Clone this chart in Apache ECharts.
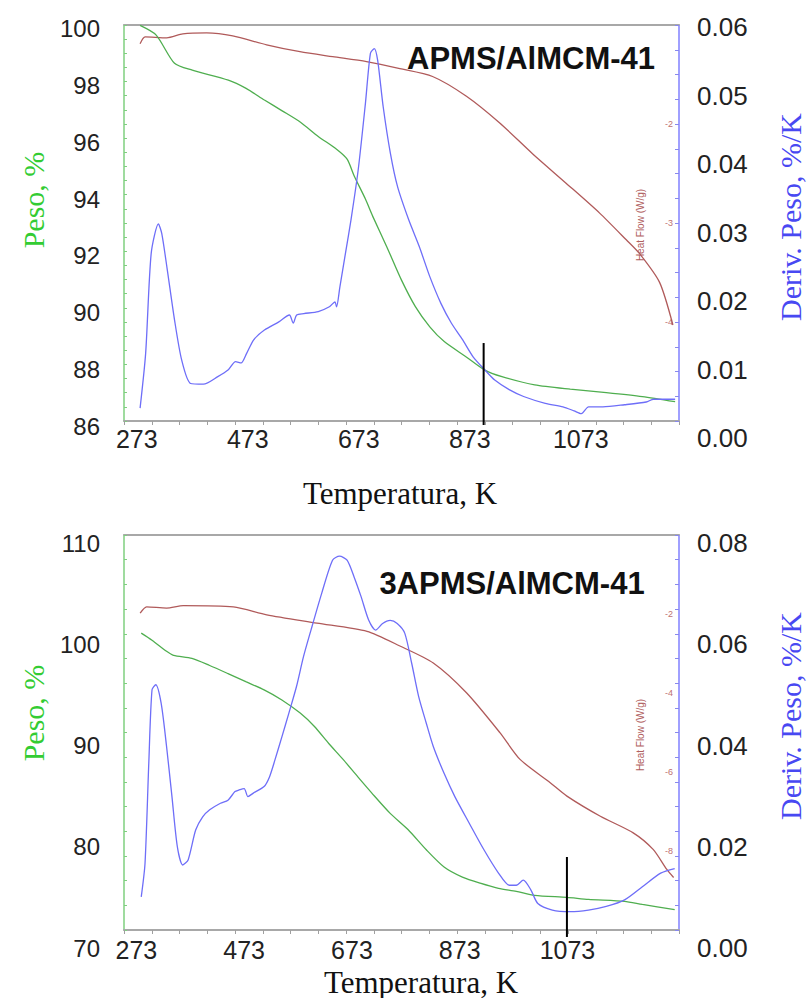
<!DOCTYPE html>
<html><head><meta charset="utf-8">
<script src="https://cdn.jsdelivr.net/npm/echarts@6/dist/echarts.min.js"></script>
<style>html,body{margin:0;padding:0;background:#fff}#c{width:807px;height:998px}</style>
</head><body><div id="c"></div>
<script>
// ---------- DATA (top panel: APMS/AlMCM-41) ----------
const xLabelValues = [273, 473, 673, 873, 1073];

const topWeightK = [279,308,341,373,438,470,503,535,568,600,633,652,665,685,698,724,750,775,801,827,866,900,931,990,1054,1119,1184,1243];
const topWeight  = [100.1,99.76,98.77,98.53,98.18,97.89,97.48,97.1,96.7,96.2,95.75,95.4,94.8,94.0,93.4,92.3,91.15,90.22,89.51,88.99,88.46,87.99,87.76,87.47,87.32,87.20,87.06,86.88];

const topDerivK = [279,289,299,312,318,328,341,354,370,393,419,438,451,461,471,484,503,529,548,555,561,574,600,620,630,633,639,649,659,672,685,694,701,707,717,730,743,763,782,801,821,840,860,879,900,918,944,970,1009,1041,1061,1074,1087,1113,1152,1191,1204,1243];
const topDeriv  = [0.0044,0.0124,0.0270,0.0313,0.0299,0.0246,0.0173,0.0114,0.0080,0.0079,0.0090,0.0100,0.0112,0.0110,0.0124,0.0144,0.0158,0.0170,0.0180,0.0168,0.0180,0.0182,0.0185,0.0192,0.0199,0.0192,0.0221,0.0270,0.0319,0.0392,0.0489,0.0562,0.0569,0.0552,0.0484,0.0416,0.0367,0.0319,0.0280,0.0236,0.0197,0.0168,0.0144,0.0119,0.0100,0.0085,0.0071,0.0061,0.0051,0.0046,0.0040,0.0036,0.0046,0.0046,0.0049,0.0053,0.0057,0.0057];

const topHeatK = [279,288,327,356,399,446,507,567,626,687,747,806,867,927,986,1047,1107,1155,1179,1215,1239];
const topHeat  = [-1.19,-1.12,-1.13,-1.09,-1.08,-1.11,-1.20,-1.27,-1.32,-1.37,-1.44,-1.52,-1.72,-1.99,-2.30,-2.60,-2.90,-3.17,-3.31,-3.60,-4.03];

const topMarkerK = 898;
const topMarkerWeight = [88.94, 86.06];

const topWeightTicks = [86, 100, 2];
const topDerivTicks = [0, 0.06, 0.01];
const topHeatTicks = [-5, -1, 0.25];
const topHeatLabels = [-4, -3, -2];

// ---------- DATA (bottom panel: 3APMS/AlMCM-41) ----------
const botWeightK = [282,302,329,342,376,409,443,476,510,543,577,603,630,657,684,710,744,777,811,844,878,911,945,978,1012,1072,1112,1179,1212,1272];
const botWeight  = [101.1,100.4,99.3,98.9,98.6,97.9,97.1,96.3,95.5,94.5,93.2,91.9,90.2,88.6,86.9,85.3,83.3,81.7,79.7,78.0,77.0,76.4,75.9,75.6,75.2,75.0,74.8,74.6,74.3,73.8];

const botDerivK = [282,289,296,302,309,319,329,339,349,359,369,383,396,409,429,443,456,463,473,480,490,510,520,530,543,556,570,583,597,617,637,650,664,677,690,704,717,730,744,757,771,784,797,811,824,844,864,891,918,945,965,978,991,1005,1018,1045,1078,1112,1145,1179,1212,1246,1272];
const botDeriv  = [0.0101,0.0167,0.0365,0.0510,0.0520,0.0483,0.0398,0.0299,0.0200,0.0164,0.0174,0.0233,0.0259,0.0273,0.0286,0.0292,0.0309,0.0312,0.0315,0.0299,0.0306,0.0319,0.0338,0.0371,0.0417,0.0464,0.0516,0.0575,0.0628,0.0701,0.0766,0.0774,0.0766,0.0733,0.0694,0.0648,0.0628,0.0641,0.0647,0.0641,0.0622,0.0562,0.0496,0.0444,0.0398,0.0345,0.0299,0.0246,0.0194,0.0148,0.0124,0.0124,0.0134,0.0115,0.0088,0.0075,0.0072,0.0075,0.0082,0.0095,0.0121,0.0148,0.0157];

const botHeatK = [280,292,329,360,453,515,608,701,762,824,886,948,985,1041,1072,1134,1195,1232,1257,1270];
const botHeat  = [-1.98,-1.82,-1.85,-1.79,-1.82,-2.02,-2.23,-2.44,-2.81,-3.24,-4.00,-5.01,-5.68,-6.27,-6.61,-7.12,-7.54,-7.96,-8.46,-8.67];

const botMarkerK = 1072;
const botMarkerWeight = [78.99, 71.09];

const botWeightTicks = [70, 110, 10];
const botDerivTicks = [0, 0.08, 0.02];
const botHeatTicks = [-10, 0, 0.625];
const botHeatLabels = [-8, -6, -4, -2];

// ---------- CHART ----------
const SANS = "'Liberation Sans', Arial, sans-serif";
const SERIF = "'Liberation Serif', 'Times New Roman', serif";
const C_GREEN = '#4fae4f', C_BLUE = '#6e6ef8', C_BROWN = '#b05a5a';
const grids = [], xAxes = [], yAxes = [], series = [], graphics = [];
const zip = (a, b) => a.map((v, i) => [v, b[i]]);

function addPanel(p) {
  const gA = grids.length; grids.push({left:124, right:128, top:p.top, height:p.height, outerBoundsMode:'none'});
  const gB = grids.length; grids.push({left:124, right:128, top:p.lTop, height:p.lHeight, outerBoundsMode:'none'});
  const gC = grids.length; grids.push({left:124, right:128, top:p.rTop, height:p.rHeight, outerBoundsMode:'none'});
  const ticks = [];
  for (let i = 0; i <= 20; i++) ticks.push(p.xMin + (p.xMax - p.xMin) * i / 20);
  const xA = xAxes.length;
  xAxes.push({type:'value', gridIndex:gA, min:p.xMin, max:p.xMax, position:'bottom',
    axisLine:{show:true, onZero:false, lineStyle:{color:'#a8a8a8', width:2}},
    axisTick:{show:true, customValues:ticks, length:4, lineStyle:{color:'#a0a0a0', width:1}},
    axisLabel:{customValues:xLabelValues, fontSize:25, color:'#222', margin:p.xMargin, fontFamily:SANS,
      formatter:v => String(Math.round(v))},
    splitLine:{show:false}});
  xAxes.push({type:'value', gridIndex:gA, min:p.xMin, max:p.xMax, position:'top',
    axisLine:{show:true, onZero:false, lineStyle:{color:'#a8a8a8', width:2}},
    axisTick:{show:false}, axisLabel:{show:false}, splitLine:{show:false}});
  const xB = xAxes.length;
  xAxes.push({type:'value', gridIndex:gB, min:p.xMin, max:p.xMax, show:false});
  const xC = xAxes.length;
  xAxes.push({type:'value', gridIndex:gC, min:p.xMin, max:p.xMax, show:false});

  yAxes.push({type:'value', gridIndex:gA, position:'left', min:0, max:p.frameTicks, interval:1,
    axisLine:{show:true, onZero:false, lineStyle:{color:'#7fcf7f', width:1.5}},
    axisTick:{show:true, inside:true, length:3, lineStyle:{color:'#7fcf7f'}},
    axisLabel:{show:false}, splitLine:{show:false}});
  const yHeat = yAxes.length;
  yAxes.push({type:'value', gridIndex:gA, position:'right', min:p.heat[0], max:p.heat[1], interval:p.heat[2],
    axisLine:{show:true, onZero:false, lineStyle:{color:'#8080ff', width:1.5}},
    axisTick:{show:true, inside:true, length:4, lineStyle:{color:'#8888ee'}},
    axisLabel:{customValues:p.heatLabels, inside:true, margin:6, fontSize:9, color:'#c07070', fontFamily:SANS},
    splitLine:{show:false}});
  const yW = yAxes.length;
  yAxes.push({type:'value', gridIndex:gB, position:'left', min:p.w[0], max:p.w[1], interval:p.w[2],
    axisLine:{show:false}, axisTick:{show:false}, splitLine:{show:false},
    axisLabel:{fontSize:24, color:'#222', margin:24, fontFamily:SANS}});
  const yD = yAxes.length;
  yAxes.push({type:'value', gridIndex:gC, position:'right', min:p.d[0], max:p.d[1], interval:p.d[2],
    axisLine:{show:false}, axisTick:{show:false}, splitLine:{show:false},
    axisLabel:{fontSize:26, color:'#222', margin:18, fontFamily:SANS, formatter:v => v.toFixed(2)}});

  const lineBase = {type:'line', symbol:'none', smooth:0.25, clip:false, silent:true};
  series.push(Object.assign({}, lineBase, {name:'Heat Flow', xAxisIndex:xA, yAxisIndex:yHeat,
    data:zip(p.heatK, p.heatV), lineStyle:{color:C_BROWN, width:1.3}}));
  series.push(Object.assign({}, lineBase, {name:'Peso', xAxisIndex:xB, yAxisIndex:yW,
    data:zip(p.wK, p.wV), lineStyle:{color:C_GREEN, width:1.3}}));
  series.push(Object.assign({}, lineBase, {name:'Deriv. Peso', xAxisIndex:xC, yAxisIndex:yD,
    data:zip(p.dK, p.dV), lineStyle:{color:C_BLUE, width:1.3}}));
  series.push({type:'line', symbol:'none', clip:false, silent:true, xAxisIndex:xB, yAxisIndex:yW,
    data:p.markerW.map(v => [p.markerK, v]), lineStyle:{color:'#000', width:2}});

  graphics.push({type:'text', x:p.titlePos[0], y:p.titlePos[1], z:100,
    style:{text:p.title, font:'bold 31px ' + SANS, fill:'#111', align:'center', verticalAlign:'middle', textAlign:'center', textVerticalAlign:'middle'}});
  graphics.push({type:'text', x:33, y:p.pesoY, rotation:Math.PI/2, z:100,
    style:{text:'Peso, %', font:'30px ' + SERIF, fill:'#33cc33', align:'center', verticalAlign:'middle', textAlign:'center', textVerticalAlign:'middle'}});
  graphics.push({type:'text', x:790, y:p.derivY, rotation:Math.PI/2, z:100,
    style:{text:'Deriv. Peso, %/K', font:'30px ' + SERIF, fill:'#4848f2', align:'center', verticalAlign:'middle', textAlign:'center', textVerticalAlign:'middle'}});
  graphics.push({type:'text', x:p.tempPos[0], y:p.tempPos[1], z:100,
    style:{text:'Temperatura, K', font:'31px ' + SERIF, fill:'#111', align:'center', verticalAlign:'middle', textAlign:'center', textVerticalAlign:'middle'}});
  graphics.push({type:'text', x:640, y:p.heatNameY, rotation:Math.PI/2, z:100,
    style:{text:'Heat Flow (W/g)', font:'10px ' + SANS, fill:'#b06060', align:'center', verticalAlign:'middle', textAlign:'center', textVerticalAlign:'middle'}});
}

addPanel({top:25, height:396, lTop:28.3, lHeight:398.4, rTop:27.3, rHeight:411,
  xMin:250, xMax:1250, xMargin:5, frameTicks:28,
  heat:topHeatTicks, heatLabels:topHeatLabels, w:topWeightTicks, d:topDerivTicks,
  wK:topWeightK, wV:topWeight, dK:topDerivK, dV:topDeriv, heatK:topHeatK, heatV:topHeat,
  markerK:topMarkerK, markerW:topMarkerWeight,
  title:'APMS/AlMCM-41', titlePos:[531, 58], pesoY:200, derivY:217, tempPos:[400, 493], heatNameY:225});

addPanel({top:535, height:395, lTop:543, lHeight:405, rTop:543, rHeight:405,
  xMin:250, xMax:1280, xMargin:7, frameTicks:16,
  heat:botHeatTicks, heatLabels:botHeatLabels, w:botWeightTicks, d:botDerivTicks,
  wK:botWeightK, wV:botWeight, dK:botDerivK, dV:botDeriv, heatK:botHeatK, heatV:botHeat,
  markerK:botMarkerK, markerW:botMarkerWeight,
  title:'3APMS/AlMCM-41', titlePos:[512, 583], pesoY:713, derivY:716, tempPos:[421, 982], heatNameY:735});

const chart = echarts.init(document.getElementById('c'), null, {renderer:'svg'});
chart.setOption({
  animation:false,
  backgroundColor:'#fff',
  grid:grids, xAxis:xAxes, yAxis:yAxes, series:series, graphic:graphics
});
</script>
</body></html>
